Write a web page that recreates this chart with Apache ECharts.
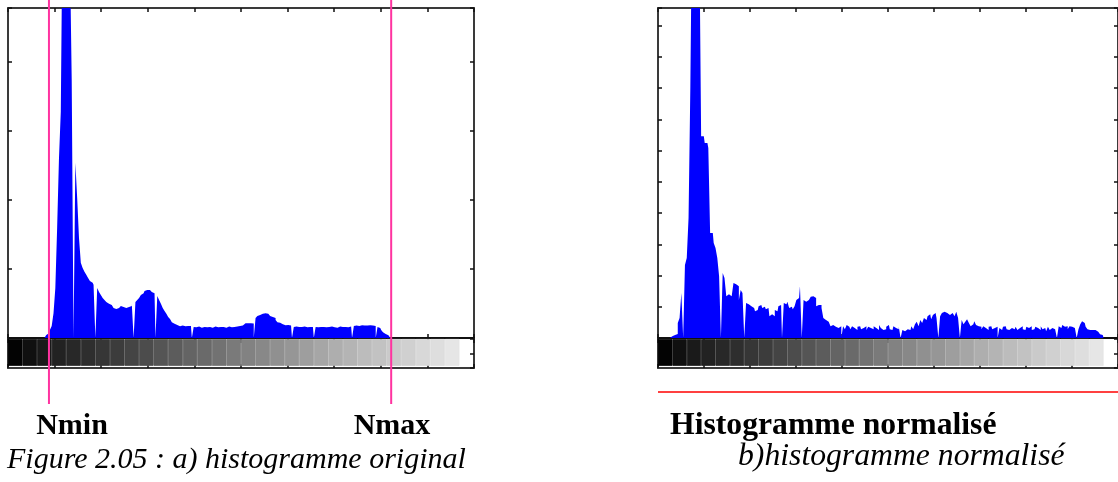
<!DOCTYPE html>
<html><head><meta charset="utf-8">
<script src="https://cdn.jsdelivr.net/npm/echarts@6/dist/echarts.min.js"></script>
<style>html,body{margin:0;padding:0;background:#fff}#c{width:1118px;height:482px}</style>
</head><body><div id="c"></div>
<script>
// gray levels 0..255 (categories)
const grayLevels = Array.from({length: 256}, (_, i) => i);

// a) original histogram (counts per gray level, estimated)
const originalCounts = [
0,0,0,0,0,0,0,0,0,0,0,0,0,0,0,0,0,0,0,0,0,
45,70,115,175,360,725,1600,2600,3280,
6200,7800,8600,7400,5600,3740,
0,
2540,2030,1450,1090,1015,960,915,870,825,800,770,
0,
725,665,625,580,550,520,495,480,465,435,420,435,450,465,450,435,435,450,465,495,
0,
520,550,580,625,650,680,695,695,680,665,650,
0,
610,550,495,435,390,350,305,275,230,205,190,
175,170,180,175,170,175,180,175,
0,
160,155,165,160,150,160,165,155,160,160,150,165,160,155,160,165,160,150,160,165,155,160,160,165,170,175,180,
205,215,215,220,215,210,
0,
290,320,335,350,360,360,350,335,320,305,290,260,
230,220,200,
190,185,190,185,180,
0,
160,165,160,155,160,165,160,155,160,165,160,
0,
160,155,160,165,160,155,160,160,165,160,155,150,160,165,160,155,160,155,160,165,
0,
175,180,175,180,185,180,175,180,185,175,180,175,
0,
160,145,115,85,58,40,15,
0,0,0,0,0,0,0,0,0,0,0,0,0,0,0,0,0,0,0,0,0,0,0,0,0,0,0,0,0,0,0,0,0,0,0,0,0,0,0,0,0,0,0,0,0,0
];

// b) normalised histogram (counts per gray level, estimated)
const normalizedCounts = [
0,0,0,0,0,0,0,
30,50,50,65,240,320,720,
0,
1170,1280,1920,4020,7000,8200,9000,8000,6500,3230,3230,3120,3120,3040,1680,1680,1520,1440,1280,990,
0,
1040,960,670,700,670,640,880,860,830,610,770,720,
0,
560,540,510,530,480,430,450,510,530,480,500,460,480,350,380,350,450,430,510,530,
0,
560,540,580,480,500,460,510,610,640,830,
0,
610,580,610,640,660,670,640,510,530,530,480,320,290,260,240,190,210,180,190,160,190,
0,
190,140,210,180,140,190,160,130,180,190,140,160,190,130,180,160,140,190,160,130,210,
160,130,140,180,210,140,130,190,160,140,180,
0,
130,110,140,160,130,190,140,220,260,190,290,
240,320,290,350,380,300,370,400,320,
0,
350,400,420,400,380,370,400,380,350,420,320,
0,
290,220,260,300,240,190,220,270,210,190,
180,140,190,160,130,180,190,140,160,180,
0,
160,130,180,190,140,130,160,190,140,180,130,160,190,140,130,180,160,190,130,140,180,160,130,190,140,160,110,180,130,160,140,130,
0,
190,160,210,180,190,140,190,180,160,190,
0,
140,220,270,240,180,140,130,130,110,130,100,80,60,50,
0,0,0,0,0,0,0,0
];

// gray wedge under each histogram: 32 steps of 8 levels (last step blank)
const wedgeSteps = Array.from({length: 32}, (_, i) => i);
const wedgeGray = [3,16,26,34,40,46,54,60,68,76,85,92,100,106,114,122,130,136,144,150,158,166,174,180,188,194,202,208,216,222,230,null];

// x tick marks: 10 divisions of the 0..256 range
const xTickInterval = 25.6;
const nMin = 22, nMax = 210;

const texts = {
  nmin: 'Nmin', nmax: 'Nmax',
  capA: 'Figure 2.05 : a) histogramme original',
  titleB: 'Histogramme normalisé',
  capB: 'b)histogramme normalisé'
};

const chart = echarts.init(document.getElementById('c'), null, {renderer: 'canvas'});
const boxLine = {show: true, onZero: false, lineStyle: {color: '#3a3a3a', width: 2}};
const baseLine = {show: true, onZero: false, lineStyle: {color: '#111', width: 2}};
const tick = {show: true, inside: true, length: 4, lineStyle: {color: '#111', width: 1.5}};
const noLabel = {show: false};
const noSplit = {show: false};

function panelX(gi) {
  return [
    {type: 'category', gridIndex: gi, data: grayLevels, show: false, boundaryGap: true},
    {type: 'value', gridIndex: gi, position: 'top', min: 0, max: 256, interval: xTickInterval, axisLine: boxLine, axisTick: tick, axisLabel: noLabel, splitLine: noSplit},
    {type: 'value', gridIndex: gi, position: 'bottom', min: 0, max: 256, interval: xTickInterval, axisLine: baseLine, axisTick: tick, axisLabel: noLabel, splitLine: noSplit},
    {type: 'category', gridIndex: gi + 1, data: wedgeSteps, show: false},
    {type: 'value', gridIndex: gi + 1, position: 'bottom', min: 0, max: 256, interval: xTickInterval, axisLine: boxLine, axisTick: tick, axisLabel: noLabel, splitLine: noSplit},
    {type: 'value', gridIndex: gi + 1, position: 'top', min: 0, max: 256, interval: xTickInterval, axisLine: {show: false, onZero: false}, axisTick: tick, axisLabel: noLabel, splitLine: noSplit}
  ];
}
function panelY(gi, max, interval) {
  return [
    {type: 'value', gridIndex: gi, position: 'left', min: 0, max: max, interval: interval, axisLine: boxLine, axisTick: tick, axisLabel: noLabel, splitLine: noSplit},
    {type: 'value', gridIndex: gi, position: 'right', min: 0, max: max, interval: interval, axisLine: boxLine, axisTick: tick, axisLabel: noLabel, splitLine: noSplit},
    {type: 'value', gridIndex: gi + 1, position: 'left', min: -0.08, max: 1, axisLine: boxLine, axisTick: {show: false}, axisLabel: noLabel, splitLine: noSplit},
    {type: 'value', gridIndex: gi + 1, position: 'right', min: 0, max: 1, interval: 0.5, axisLine: boxLine, axisTick: tick, axisLabel: noLabel, splitLine: noSplit}
  ];
}
const wedgeData = wedgeGray.map(g => {
  if (g === null) return {value: 0, itemStyle: {color: 'rgba(0,0,0,0)', borderWidth: 0}};
  const c = 'rgb(' + g + ',' + g + ',' + g + ')';
  return {value: 1, itemStyle: {color: c, borderColor: c, borderWidth: 0.8}};
});
function histSeries(xi, yi, data) {
  return {
    type: 'line', xAxisIndex: xi, yAxisIndex: yi, data: data, step: 'middle',
    symbol: 'none', showSymbol: false, clip: true, z: 3,
    lineStyle: {width: 0, color: '#0000ff'},
    areaStyle: {color: '#0000ff', opacity: 1}
  };
}

const option = {
  animation: false,
  backgroundColor: '#fff',
  grid: [
    {left: 8, top: 8, width: 466, height: 330},
    {left: 8, top: 339, width: 466, height: 29},
    {left: 658, top: 8, width: 466, height: 330},
    {left: 658, top: 339, width: 466, height: 29}
  ],
  xAxis: panelX(0).concat(panelX(2)),
  yAxis: panelY(0, 4783, 1000).concat(panelY(2, 5280, 500)),
  series: [
    histSeries(0, 0, originalCounts),
    {type: 'bar', xAxisIndex: 3, yAxisIndex: 2, data: wedgeData, barCategoryGap: '0%'},
    histSeries(6, 4, normalizedCounts),
    {type: 'bar', xAxisIndex: 9, yAxisIndex: 6, data: wedgeData, barCategoryGap: '0%'}
  ]
};
chart.setOption(option);

const pxMin = chart.convertToPixel({xAxisIndex: 0}, nMin);
const pxMax = chart.convertToPixel({xAxisIndex: 0}, nMax);
const rLeft = chart.convertToPixel({xAxisIndex: 7}, 0);
const serif = '"Liberation Serif","Times New Roman",serif';
chart.setOption({
  graphic: [
    {type: 'line', shape: {x1: pxMin, y1: 0, x2: pxMin, y2: 404}, style: {stroke: '#ff33a0', lineWidth: 2}, z: 100},
    {type: 'line', shape: {x1: pxMax, y1: 0, x2: pxMax, y2: 404}, style: {stroke: '#ff33a0', lineWidth: 2}, z: 100},
    {type: 'line', shape: {x1: rLeft, y1: 392, x2: 1118, y2: 392}, style: {stroke: '#ff4040', lineWidth: 2}, z: 100},
    {type: 'text', x: 72, y: 426, style: {text: texts.nmin, font: 'bold 30px ' + serif, fill: '#000', align: 'center', verticalAlign: 'middle'}},
    {type: 'text', x: 392, y: 426, style: {text: texts.nmax, font: 'bold 30px ' + serif, fill: '#000', align: 'center', verticalAlign: 'middle'}},
    {type: 'text', x: 7, y: 460, style: {text: texts.capA, font: 'italic 30px ' + serif, fill: '#000', align: 'left', verticalAlign: 'middle'}},
    {type: 'text', x: 670, y: 426, style: {text: texts.titleB, font: 'bold 31.7px ' + serif, fill: '#000', align: 'left', verticalAlign: 'middle'}},
    {type: 'text', x: 738, y: 457, style: {text: texts.capB, font: 'italic 31.7px ' + serif, fill: '#000', align: 'left', verticalAlign: 'middle'}}
  ]
});
</script></body></html>
